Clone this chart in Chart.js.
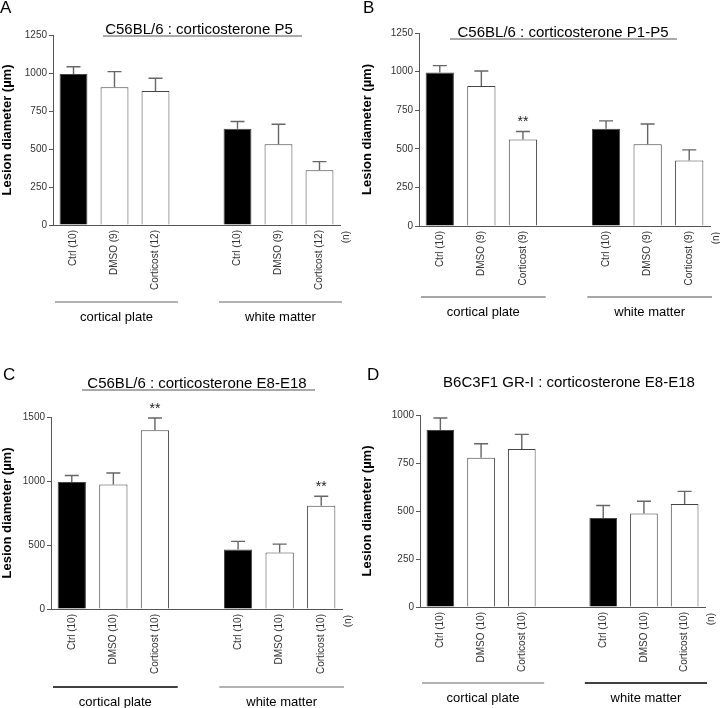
<!DOCTYPE html>
<html>
<head>
<meta charset="utf-8">
<script src="https://cdn.jsdelivr.net/npm/chart.js@4.4.0/dist/chart.umd.min.js"></script>
<style>
  html, body { margin: 0; padding: 0; background: #fff; }
  #wrap { position: relative; width: 720px; height: 708px; overflow: hidden; }
  .panel { position: absolute; }
</style>
</head>
<body>
<div id="wrap">
  <div class="panel" style="left:0;top:0"><canvas id="chartA" width="360" height="350"></canvas></div>
  <div class="panel" style="left:360px;top:0"><canvas id="chartB" width="360" height="350"></canvas></div>
  <div class="panel" style="left:0;top:350px"><canvas id="chartC" width="360" height="358"></canvas></div>
  <div class="panel" style="left:360px;top:350px"><canvas id="chartD" width="360" height="358"></canvas></div>
</div>
<script>
/* ---- data ---- */
const groups = ['cortical plate', 'white matter'];

const labelsA = ['Ctrl (10)', 'DMSO (9)', 'Corticost (12)', '', 'Ctrl (10)', 'DMSO (9)', 'Corticost (12)'];
const meansA = [993, 906, 882, null, 634, 531, 360];
const semA   = [48, 103, 83, null, 47, 132, 57];

const labelsB = ['Ctrl (10)', 'DMSO (9)', 'Corticost (9)', '', 'Ctrl (10)', 'DMSO (9)', 'Corticost (9)'];
const meansB = [994, 907, 560, null, 630, 530, 425];
const semB   = [45, 97, 52, null, 51, 131, 68];
const starsB = [2];

const labelsC = ['Ctrl (10)', 'DMSO (10)', 'Corticost (10)', '', 'Ctrl (10)', 'DMSO (10)', 'Corticost (10)'];
const meansC = [993, 972, 1396, null, 465, 442, 806];
const semC   = [50, 91, 96, null, 63, 65, 75];
const starsC = [2, 6];

const labelsD = ['Ctrl (10)', 'DMSO (10)', 'Corticost (10)', '', 'Ctrl (10)', 'DMSO (10)', 'Corticost (10)'];
const meansD = [922, 777, 823, null, 464, 487, 536];
const semD   = [62, 73, 76, null, 65, 64, 66];

const FONT = "'Liberation Sans', Arial, Helvetica, sans-serif";
Chart.defaults.font.family = FONT;
Chart.defaults.color = '#333';

/* ---- extra drawing: error bars, stars, titles, group lines ---- */
const figurePlugin = {
  id: 'figure',
  afterDatasetsDraw(chart, args, o) {
    const ctx = chart.ctx;
    const y = chart.scales.y;
    const meta = chart.getDatasetMeta(0);
    ctx.save();
    ctx.strokeStyle = '#666';
    ctx.lineWidth = 1.4;
    o.means.forEach((m, i) => {
      if (m == null) return;
      const x = meta.data[i].x;
      const yb = y.getPixelForValue(m);
      const yt = y.getPixelForValue(m + o.sem[i]);
      ctx.beginPath();
      ctx.moveTo(x, yb);
      ctx.lineTo(x, yt);
      ctx.moveTo(x - 7, yt);
      ctx.lineTo(x + 7, yt);
      ctx.stroke();
    });
    ctx.fillStyle = '#222';
    ctx.font = '14px ' + FONT;
    ctx.textAlign = 'center';
    ctx.textBaseline = 'middle';
    (o.stars || []).forEach(i => {
      const x = meta.data[i].x;
      const yt = y.getPixelForValue(o.means[i] + o.sem[i]);
      ctx.fillText('**', x, yt - 9);
    });
    ctx.restore();
  },
  afterDraw(chart, args, o) {
    const ctx = chart.ctx;
    const area = chart.chartArea;
    const xs = chart.scales.x;
    ctx.save();
    // panel letter
    ctx.fillStyle = '#000';
    ctx.font = '17px ' + FONT;
    ctx.textAlign = 'left';
    ctx.textBaseline = 'alphabetic';
    ctx.fillText(o.letter, o.letterPos[0], o.letterPos[1]);
    // title
    ctx.font = '15px ' + FONT;
    ctx.textAlign = 'center';
    ctx.textBaseline = 'middle';
    ctx.fillText(o.title, o.titlePos[0], o.titlePos[1]);
    if (o.underline) {
      ctx.strokeStyle = '#555';
      ctx.lineWidth = 1;
      ctx.beginPath();
      ctx.moveTo(o.underline[0], o.underline[2]);
      ctx.lineTo(o.underline[1], o.underline[2]);
      ctx.stroke();
    }
    // (n)
    ctx.save();
    ctx.font = '10px ' + FONT;
    ctx.fillStyle = '#333';
    ctx.translate(area.right + 6, area.bottom + 6);
    ctx.rotate(-Math.PI / 2);
    ctx.textAlign = 'right';
    ctx.fillText('(n)', 0, 0);
    ctx.restore();
    // group lines + labels
    const slot = xs.getPixelForValue(1) - xs.getPixelForValue(0);
    const ly = area.bottom + o.groupY;
    groups.forEach((g, k) => {
      const x1 = xs.getPixelForValue(k * 4) - slot / 2 + 2;
      const x2 = xs.getPixelForValue(k * 4 + 2) + slot / 2 + 2;
      ctx.strokeStyle = o.groupColors[k];
      ctx.lineWidth = 1.5;
      ctx.beginPath();
      ctx.moveTo(x1, ly);
      ctx.lineTo(x2, ly);
      ctx.stroke();
      ctx.fillStyle = '#000';
      ctx.font = '13px ' + FONT;
      ctx.textAlign = 'center';
      ctx.textBaseline = 'middle';
      ctx.fillText(g, (x1 + x2) / 2, ly + 15);
    });
    ctx.restore();
  }
};

function makePanel(id, labels, means, sem, stars, yMax, yStep, box, deco) {
  const canvas = document.getElementById(id);
  const W = canvas.width, H = canvas.height;
  return new Chart(canvas, {
    type: 'bar',
    data: {
      labels,
      datasets: [{
        data: means,
        backgroundColor: means.map((v, i) => i % 4 === 0 ? '#000' : '#fff'),
        borderColor: '#444',
        borderWidth: 1,
        barPercentage: 0.68,
        categoryPercentage: 1
      }]
    },
    options: {
      responsive: false,
      animation: false,
      layout: { padding: { left: 0, right: W - box.right, top: box.top, bottom: 0 } },
      scales: {
        x: {
          afterFit: s => { s.height = H - box.bottom; },
          grid: { display: false, drawTicks: false },
          border: { display: true, color: '#555', width: 1 },
          ticks: { autoSkip: false, minRotation: 90, maxRotation: 90, padding: 5, font: { size: 10 }, color: '#333' }
        },
        y: {
          min: 0,
          max: yMax,
          afterFit: s => { s.width = box.left; },
          grid: { drawOnChartArea: false, drawTicks: true, tickLength: 4, color: '#555' },
          border: { display: true, color: '#555', width: 1 },
          ticks: { stepSize: yStep, padding: 2, font: { size: 10 }, color: '#333', callback: v => String(v) },
          title: { display: true, text: 'Lesion diameter (µm)', color: '#000', font: { size: 13, weight: 'bold' }, padding: { top: 0, bottom: 0 } }
        }
      },
      plugins: {
        legend: { display: false },
        tooltip: { enabled: false },
        figure: Object.assign({ means, sem, stars }, deco)
      }
    },
    plugins: [figurePlugin]
  });
}

makePanel('chartA', labelsA, meansA, semA, [], 1250, 250,
  { left: 53, right: 340, top: 35, bottom: 225 },
  { letter: 'A', letterPos: [0, 13], title: 'C56BL/6 : corticosterone P5', titlePos: [199, 30],
    underline: [103, 302, 36], groupY: 77, groupColors: ['#999', '#999'] });

makePanel('chartB', labelsB, meansB, semB, starsB, 1250, 250,
  { left: 59, right: 350, top: 33, bottom: 226 },
  { letter: 'B', letterPos: [3, 13], title: 'C56BL/6 : corticosterone P1-P5', titlePos: [203, 33],
    underline: [90, 317, 39], groupY: 71, groupColors: ['#888', '#888'] });

makePanel('chartC', labelsC, meansC, semC, starsC, 1500, 500,
  { left: 51, right: 342, top: 67, bottom: 259 },
  { letter: 'C', letterPos: [3, 30], title: 'C56BL/6 : corticosterone E8-E18', titlePos: [197, 34],
    underline: [82, 315, 40], groupY: 78, groupColors: ['#000', '#999'] });

makePanel('chartD', labelsD, meansD, semD, [], 1000, 250,
  { left: 60, right: 345, top: 65, bottom: 257 },
  { letter: 'D', letterPos: [7, 30], title: 'B6C3F1 GR-I : corticosterone E8-E18', titlePos: [209, 33],
    underline: null, groupY: 76, groupColors: ['#999', '#000'] });
</script>
</body>
</html>
